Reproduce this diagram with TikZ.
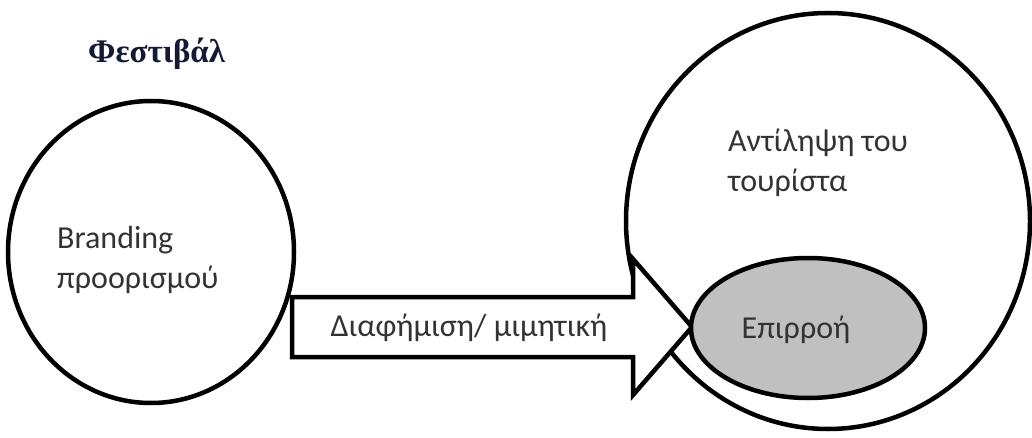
\documentclass[tikz,border=0pt]{standalone}
\usepackage{fontspec}
\setmainfont{Carlito}
\newfontfamily\titlefont{Liberation Serif}
\usetikzlibrary{shapes.geometric}
\definecolor{txt}{HTML}{333333}
\definecolor{titlecol}{HTML}{141A33}
\definecolor{infl}{HTML}{C0C0C0}
\tikzset{
  outline/.style={draw=black,line width=4.5pt},
  lbl/.style={text=txt,font=\fontsize{32}{40}\selectfont,align=left,inner sep=0pt},
}
\begin{document}
\begin{tikzpicture}[x=1pt,y=-1pt]
\useasboundingbox (0,0) rectangle (1032,438);
% big circle
\node[outline,ellipse,minimum width=404pt,minimum height=416pt,inner sep=0pt] (tour) at (828,221) {};
% left circle
\node[outline,ellipse,minimum width=286pt,minimum height=302pt,inner sep=0pt] (brand) at (151,252) {};
% arrow
\coordinate (a1) at (292,297);
\coordinate (tip) at (692,327);
\draw[outline,fill=white,line join=miter] (a1) -- (633,297) -- (633,259) -- (tip) -- (633,395) -- (633,357) -- (292,357) -- cycle;
% influence ellipse
\node[outline,ellipse,fill=infl,minimum width=234pt,minimum height=140pt,inner sep=0pt] (infl) at (808,328) {};
% texts
\node[text=titlecol,font=\titlefont\bfseries\fontsize{33}{38}\selectfont,anchor=west,inner sep=0pt] (title) at (88,54) {Φεστιβάλ};
\node[lbl,anchor=west] (btxt) at (57,260) {Branding\\προορισμού};
\node[lbl,anchor=west] (ttxt) at (728,163) {Αντίληψη του\\τουρίστα};
\node[lbl] (itxt) at (796,330) {Επιρροή};
\node[lbl] (atxt) at (469,328) {Διαφήμιση/ μιμητική};
\end{tikzpicture}
\end{document}
